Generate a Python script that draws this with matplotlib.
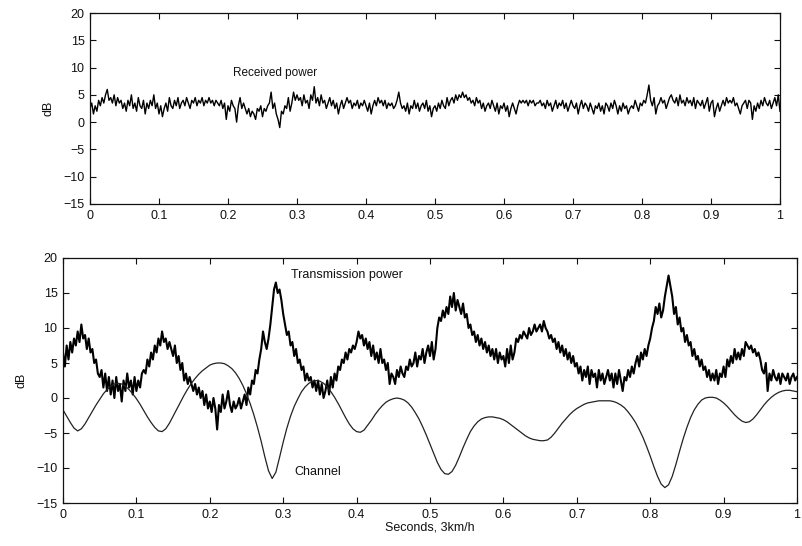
import numpy as np
import matplotlib
matplotlib.use("Agg")
import matplotlib.pyplot as plt

plt.rcParams['font.family'] = ['Liberation Sans', 'DejaVu Sans']

# ---- data ----
received_power = [
    2.5, 3.5, 1.5, 3.0, 2.0, 4.0, 3.0, 4.5, 3.5, 5.0, 6.0, 4.0, 4.5, 3.5, 5.0, 3.0, 4.5, 3.5, 4.0, 2.5,
    3.5, 2.0, 4.0, 3.0, 5.0, 2.5, 3.5, 2.0, 4.5, 3.0, 2.5, 4.0, 1.5, 3.5, 2.5, 4.0, 3.0, 5.0, 2.5, 3.5,
    1.5, 3.0, 1.0, 2.5, 3.5, 2.0, 4.5, 3.0, 2.5, 4.0, 3.0, 4.5, 2.5, 3.5, 4.0, 3.0, 4.5, 3.5, 2.5, 4.0,
    3.5, 4.5, 3.0, 4.0, 3.5, 4.5, 3.0, 4.0, 3.5, 4.5, 3.5, 4.0, 3.0, 4.0, 3.5, 3.0, 4.0, 2.5, 3.5, 0.5,
    3.0, 2.0, 4.0, 3.0, 2.5, 0.0, 3.0, 4.5, 2.5, 3.5, 2.5, 1.5, 2.5, 1.0, 2.0, 1.5, 0.5, 2.5, 2.0, 3.0,
    1.0, 2.5, 2.0, 3.0, 3.5, 5.5, 2.5, 3.5, 1.5, 0.5, -1.0, 2.0, 1.5, 3.0, 2.5, 4.5, 2.0, 3.5, 5.5, 4.0,
    5.0, 4.0, 4.5, 3.0, 5.0, 3.5, 4.0, 2.5, 5.0, 4.0, 6.5, 3.5, 4.5, 3.0, 5.0, 3.5, 4.0, 2.5, 3.5, 4.5,
    3.0, 4.0, 2.5, 3.5, 1.5, 3.0, 4.0, 2.5, 3.5, 4.5, 3.5, 4.0, 2.5, 3.5, 3.0, 4.0, 2.5, 3.5, 3.0, 4.0,
    3.0, 2.0, 3.5, 1.5, 3.0, 4.0, 3.0, 4.5, 3.5, 4.0, 3.0, 4.0, 2.5, 3.5, 3.0, 3.5, 2.5, 3.0, 4.0, 5.5,
    3.5, 2.5, 3.0, 2.0, 3.5, 1.5, 3.0, 2.5, 4.0, 2.5, 3.5, 2.0, 3.0, 3.5, 2.5, 4.0, 2.0, 3.0, 1.0, 2.5,
    3.0, 2.0, 3.5, 2.5, 4.0, 3.0, 2.5, 4.5, 3.0, 4.0, 4.5, 3.5, 5.0, 4.0, 5.0, 4.5, 5.5, 4.5, 5.0, 4.0,
    4.5, 3.5, 4.0, 3.0, 4.5, 3.5, 4.0, 2.5, 3.5, 2.0, 3.0, 3.5, 2.5, 4.0, 3.0, 2.0, 3.5, 1.5, 3.0, 2.5,
    3.5, 2.0, 3.0, 1.0, 2.5, 3.5, 2.5, 1.5, 3.0, 4.0, 3.5, 4.0, 3.5, 4.0, 3.0, 4.0, 3.5, 4.0, 3.0, 3.5,
    3.5, 4.0, 3.0, 3.5, 2.5, 4.0, 3.0, 3.5, 2.0, 3.0, 4.0, 2.5, 3.5, 3.0, 4.0, 2.5, 3.5, 2.0, 3.0, 4.0,
    3.0, 2.5, 3.5, 1.5, 3.0, 4.0, 2.5, 3.5, 3.0, 2.0, 3.5, 2.5, 1.5, 3.0, 2.5, 3.5, 2.0, 3.0, 1.5, 3.5,
    3.0, 2.0, 3.5, 2.5, 4.0, 3.0, 1.5, 3.0, 2.0, 3.5, 2.5, 3.0, 1.5, 2.5, 3.0, 2.5, 4.0, 3.0, 2.0, 3.5,
    3.0, 4.0, 3.5, 5.0, 6.8, 4.0, 3.0, 4.5, 1.5, 3.0, 3.5, 4.5, 3.5, 4.0, 2.5, 3.5, 4.5, 5.0, 4.0, 3.5,
    4.5, 3.0, 5.0, 3.5, 4.0, 3.0, 4.5, 3.5, 4.0, 3.0, 4.5, 2.5, 4.0, 3.5, 3.0, 4.0, 2.5, 3.5, 4.5, 2.0,
    3.5, 4.0, 1.0, 2.5, 3.5, 2.0, 3.0, 4.0, 3.0, 4.5, 3.5, 4.0, 3.5, 4.5, 3.0, 3.5, 2.5, 1.5, 3.0, 3.5,
    4.0, 2.5, 4.0, 3.5, 0.5, 3.0, 2.0, 3.5, 2.5, 4.0, 3.0, 4.5, 3.5, 3.0, 4.0, 2.5, 3.5, 4.5, 3.0, 5.0,
    2.0,
]

transmission_power = [
    6.5, 4.5, 7.5, 5.5, 8.0, 6.5, 8.5, 7.5, 9.5, 8.0, 10.5, 8.5, 9.0, 7.0, 8.5, 6.5, 7.0, 5.0, 5.5, 3.5,
    3.0, 4.0, 1.5, 3.5, 1.0, 3.0, 0.5, 2.5, 0.0, 3.0, 1.0, 2.0, -0.5, 2.5, 1.0, 3.5, 1.5, 2.5, 0.5, 3.0,
    1.0, 2.5, 1.5, 3.5, 4.0, 3.5, 5.5, 4.5, 6.5, 5.5, 7.5, 6.5, 8.5, 7.5, 9.5, 8.0, 8.5, 7.0, 8.0, 7.0,
    6.0, 7.5, 5.0, 6.0, 4.0, 5.0, 2.5, 3.5, 2.0, 3.0, 2.0, 1.0, 2.0, 0.5, 1.5, 0.0, 1.0, -1.0, 0.5, -1.5,
    -0.5, -2.0, 0.0, -1.5, -4.5, -1.0, -2.0, 0.5, -1.5, -0.5, 1.0, -1.0, -2.0, -0.5, -1.5, -1.0, 0.0, -1.5, -0.5, 0.5,
    -1.0, 1.5, 0.5, 2.5, 2.0, 4.0, 3.5, 5.5, 7.0, 9.5, 8.0, 7.0, 8.5, 10.5, 13.0, 15.5, 16.5, 15.0, 15.5, 14.0,
    12.0, 10.5, 9.0, 9.5, 7.5, 8.0, 6.0, 7.0, 5.0, 5.5, 4.0, 4.5, 2.5, 3.5, 2.5, 3.0, 1.5, 2.5, 1.0, 2.5,
    0.5, 2.0, 0.0, 1.0, 2.5, 0.5, 3.0, 1.5, 3.5, 2.5, 4.5, 4.0, 5.5, 5.0, 6.5, 5.5, 7.0, 6.5, 7.5, 7.0,
    8.0, 9.5, 8.5, 9.0, 7.5, 8.5, 7.0, 8.0, 6.0, 7.5, 5.5, 6.5, 5.0, 7.0, 5.0, 5.5, 4.0, 5.0, 2.0, 3.5,
    3.0, 2.0, 4.0, 3.0, 4.5, 3.5, 3.0, 4.5, 4.0, 5.5, 4.5, 5.0, 6.5, 4.5, 6.0, 5.5, 7.0, 5.0, 6.5, 7.5,
    6.0, 8.0, 5.5, 7.0, 10.0, 11.5, 11.0, 12.5, 11.5, 13.0, 12.0, 14.5, 13.0, 15.0, 12.5, 14.0, 13.0, 12.0, 13.5, 11.5,
    12.0, 10.0, 10.5, 9.0, 9.5, 8.0, 9.0, 7.5, 8.5, 7.0, 8.0, 6.5, 7.5, 6.0, 7.0, 5.5, 7.0, 5.0, 6.5, 5.5,
    6.0, 4.5, 7.0, 5.0, 7.5, 5.5, 6.5, 8.5, 8.0, 9.0, 8.5, 9.5, 9.0, 8.5, 10.0, 9.0, 9.5, 10.5, 9.5, 10.0,
    10.5, 9.5, 11.0, 10.0, 9.5, 8.5, 9.0, 8.0, 8.5, 7.0, 8.0, 6.5, 7.5, 6.0, 7.0, 5.5, 6.5, 5.0, 6.0, 4.5,
    5.0, 3.5, 4.5, 2.5, 4.0, 3.0, 4.5, 2.0, 4.0, 3.0, 3.5, 1.5, 4.0, 2.5, 3.5, 2.0, 3.0, 4.0, 2.5, 3.5,
    1.5, 3.5, 2.0, 4.0, 2.5, 1.0, 3.0, 2.5, 4.0, 3.0, 4.5, 3.5, 5.0, 6.0, 4.5, 6.5, 5.5, 7.0, 6.0, 7.5,
    8.5, 10.0, 11.0, 13.0, 12.0, 13.5, 11.5, 12.5, 14.5, 16.0, 17.5, 16.0, 14.5, 12.0, 13.0, 10.5, 11.5, 9.5, 10.0, 8.0,
    9.0, 7.5, 8.0, 6.0, 7.0, 5.5, 6.0, 4.5, 5.5, 4.0, 4.5, 3.0, 4.0, 2.5, 3.5, 2.5, 4.0, 2.0, 3.5, 3.0,
    4.5, 3.0, 5.5, 4.5, 6.0, 5.0, 7.0, 5.5, 6.5, 5.5, 7.0, 6.0, 8.0, 7.5, 7.0, 7.5, 6.5, 7.0, 6.0, 6.5,
    5.5, 4.0, 3.5, 5.0, 1.0, 3.5, 2.5, 4.0, 3.0, 2.5, 3.5, 2.0, 3.5, 3.0, 2.5, 3.5, 2.0, 3.0, 3.5, 2.5,
    3.0,
]

channel = [
    -1.7, -2.6, -3.5, -4.3, -4.7, -4.4, -3.7, -2.8, -1.9, -1.0,
    -0.2, 0.6, 1.2, 1.7, 2.0, 2.1, 2.0, 1.7, 1.2, 0.6,
    -0.1, -0.9, -1.8, -2.7, -3.5, -4.2, -4.7, -4.8, -4.4, -3.6,
    -2.6, -1.6, -0.6, 0.4, 1.3, 2.1, 2.8, 3.4, 3.9, 4.3,
    4.7, 4.9, 5.0, 5.0, 4.9, 4.6, 4.2, 3.6, 2.8, 1.8,
    0.6, -0.8, -2.4, -4.2, -6.2, -8.4, -10.4, -11.5, -10.6, -8.5,
    -6.3, -4.3, -2.6, -1.2, -0.1, 0.9, 1.6, 2.1, 2.4, 2.5,
    2.4, 2.1, 1.6, 0.9, 0.1, -0.8, -1.8, -2.8, -3.7, -4.4,
    -4.8, -4.9, -4.6, -3.9, -3.2, -2.4, -1.7, -1.1, -0.6, -0.3,
    -0.1, 0.0, -0.1, -0.3, -0.7, -1.3, -2.1, -3.0, -4.1, -5.3,
    -6.6, -7.9, -9.2, -10.2, -10.8, -10.9, -10.5, -9.6, -8.4, -7.1,
    -5.9, -4.8, -4.0, -3.4, -3.0, -2.8, -2.7, -2.7, -2.8, -2.9,
    -3.1, -3.4, -3.8, -4.2, -4.6, -5.0, -5.4, -5.7, -5.9, -6.0,
    -6.1, -6.1, -6.0, -5.6, -5.0, -4.3, -3.6, -3.0, -2.4, -1.9,
    -1.5, -1.2, -0.9, -0.7, -0.6, -0.5, -0.4, -0.4, -0.4, -0.4,
    -0.5, -0.7, -1.0, -1.4, -2.0, -2.7, -3.5, -4.5, -5.6, -6.9,
    -8.3, -9.8, -11.2, -12.3, -12.8, -12.4, -11.2, -9.5, -7.6, -5.8,
    -4.2, -2.8, -1.7, -0.9, -0.3, 0.0, 0.1, 0.1, 0.0, -0.3,
    -0.7, -1.2, -1.8, -2.4, -2.9, -3.3, -3.5, -3.4, -3.0, -2.4,
    -1.7, -1.0, -0.4, 0.1, 0.5, 0.8, 1.0, 1.1, 1.1, 1.0,
    0.9,
]

x_ticks = [0, 0.1, 0.2, 0.3, 0.4, 0.5, 0.6, 0.7, 0.8, 0.9, 1]
x_ticklabels = ['0', '0.1', '0.2', '0.3', '0.4', '0.5', '0.6', '0.7', '0.8', '0.9', '1']
y_ticks = [-15, -10, -5, 0, 5, 10, 15, 20]
y_ticklabels = ['\u221215', '\u221210', '\u22125', '0', '5', '10', '15', '20']

t_rx = np.linspace(0, 1, len(received_power))
t_tx = np.linspace(0, 1, len(transmission_power))
t_ch = np.linspace(0, 1, len(channel))

W, H = 802, 546
fig = plt.figure(figsize=(W / 100, H / 100), dpi=100)

ax1 = fig.add_axes([90 / W, 1 - 204 / H, 690 / W, 191 / H])
ax2 = fig.add_axes([63 / W, 1 - 503 / H, 734 / W, 245 / H])

ink = '#111111'
for ax in (ax1, ax2):
    ax.set_xlim(0, 1)
    ax.set_ylim(-15, 20)
    ax.set_xticks(x_ticks)
    ax.set_xticklabels(x_ticklabels)
    ax.set_yticks(y_ticks)
    ax.set_yticklabels(y_ticklabels)
    ax.tick_params(direction='in', top=True, right=True, length=4, width=0.8,
                   labelsize=9, colors=ink, pad=4)
    for s in ax.spines.values():
        s.set_linewidth(0.9)
        s.set_color(ink)
    ax.set_ylabel('dB', fontsize=9, color=ink, labelpad=6)

ax1.plot(t_rx, received_power, color='black', linewidth=1.0)
ax1.text(0.207, 9.0, 'Received power', fontsize=8.5, color=ink, va='center')

ax2.plot(t_tx, transmission_power, color='black', linewidth=1.5)
ax2.plot(t_ch, channel, color='#222222', linewidth=0.9)
ax2.text(0.311, 17.6, 'Transmission power', fontsize=9, color=ink, va='center')
ax2.text(0.315, -10.6, 'Channel', fontsize=9, color=ink, va='center')
ax2.set_xlabel('Seconds, 3km/h', fontsize=9, color=ink, labelpad=1)

fig.savefig('out.png', dpi=100)
